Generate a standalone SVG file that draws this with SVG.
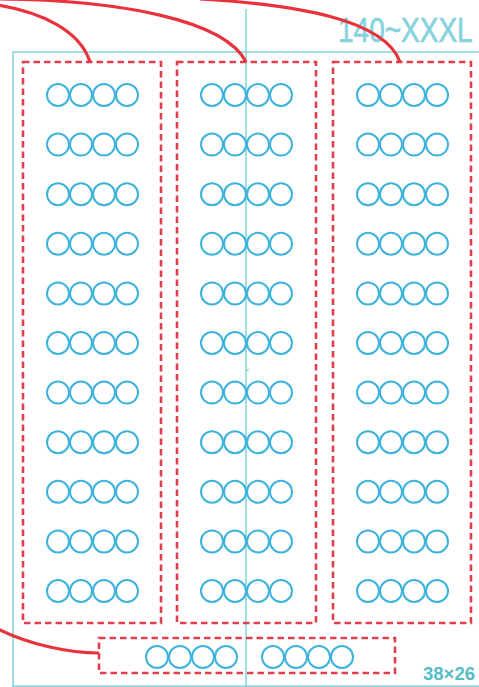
<svg xmlns="http://www.w3.org/2000/svg" width="479" height="687" viewBox="0 0 479 687">
<defs>
<style>
.frame{fill:none;stroke:#7fd3dc;stroke-width:1.5}
.box{fill:none;stroke:#e0404c;stroke-width:2.6;stroke-dasharray:6.5 4}
.c{fill:none;stroke:#3db3dc;stroke-width:2}
.conn{fill:none;stroke:#e8323c;stroke-width:3.2}
.big{font-family:"Liberation Sans",Arial,sans-serif;font-size:35px;fill:#86d3de;stroke:#86d3de;stroke-width:0.7}
.small{font-family:"Liberation Sans",Arial,sans-serif;font-size:19px;font-weight:bold;fill:#55bcc6}
.mark{font-family:"Liberation Sans",Arial,sans-serif;font-size:9px;fill:#9ccfd6}
</style>
<g id="quad">
<circle class="c" cx="0" cy="0" r="11"/>
<circle class="c" cx="23" cy="0" r="11"/>
<circle class="c" cx="46" cy="0" r="11"/>
<circle class="c" cx="69" cy="0" r="11"/>
</g>
<g id="col">
<use href="#quad" y="0"/>
<use href="#quad" y="49.6"/>
<use href="#quad" y="99.2"/>
<use href="#quad" y="148.8"/>
<use href="#quad" y="198.4"/>
<use href="#quad" y="248"/>
<use href="#quad" y="297.6"/>
<use href="#quad" y="347.2"/>
<use href="#quad" y="396.8"/>
<use href="#quad" y="446.4"/>
<use href="#quad" y="496"/>
</g>
</defs>
<rect width="479" height="687" fill="#ffffff"/>
<g id="frame">
<path class="frame" d="M13,687 V52 H480"/>
<path class="frame" d="M13,686 H480"/>
<line class="frame" x1="246" y1="9" x2="246" y2="687"/>
</g>
<g id="labels">
<text class="big" transform="translate(338,42) scale(0.8,1)" x="0" y="0">140~XXXL</text>
<text class="small" x="423" y="680" textLength="52" lengthAdjust="spacingAndGlyphs">38×26</text>
<text class="mark" x="244.5" y="373">×</text>
</g>
<g id="box1">
<rect class="box" x="23" y="62" width="138" height="561"/>
<use href="#col" x="58" y="95"/>
</g>
<g id="box2">
<rect class="box" x="177" y="62" width="139" height="561"/>
<use href="#col" x="212" y="95"/>
</g>
<g id="box3">
<rect class="box" x="333" y="62" width="138" height="561"/>
<use href="#col" x="368" y="95"/>
</g>
<g id="box4">
<rect class="box" x="99" y="638" width="296" height="35"/>
<use href="#quad" x="157" y="657"/>
<use href="#quad" x="273" y="657"/>
</g>
<g id="connectors">
<path class="conn" d="M-2,5 C40,12 80,30 90,62"/>
<path class="conn" d="M-2,-1 C120,0 225,20 246,62"/>
<path class="conn" d="M200,-1 C300,5 385,20 400,62"/>
<path class="conn" d="M-2,629 C30,645 70,653 99,653"/>
</g>
</svg>
